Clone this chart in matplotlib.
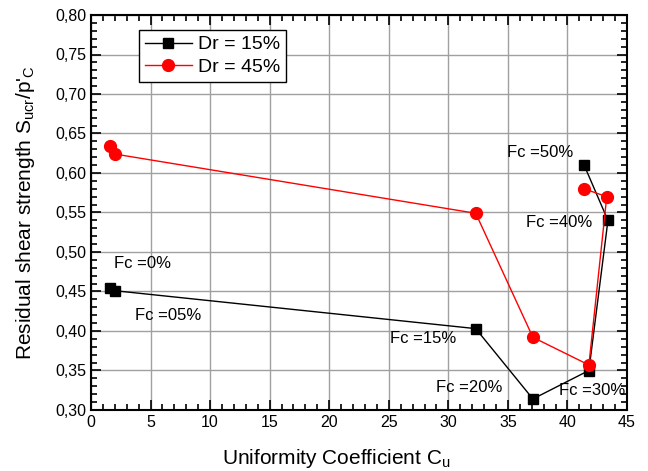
import matplotlib
matplotlib.use("Agg")
import matplotlib.pyplot as plt
from matplotlib.ticker import MultipleLocator, FuncFormatter

plt.rcParams["font.family"] = ["Liberation Sans", "DejaVu Sans"]
plt.rcParams["mathtext.fontset"] = "custom"
plt.rcParams["mathtext.rm"] = "Liberation Sans"
plt.rcParams["mathtext.it"] = "Liberation Sans"

# Residual shear strength vs uniformity coefficient, fines content Fc = 0..50 %
fc_labels = ["Fc =0%", "Fc =05%", "Fc =15%", "Fc =20%", "Fc =30%", "Fc =40%", "Fc =50%"]

cu_dr15 = [1.6, 2.0, 32.3, 37.1, 41.8, 43.4, 41.4]
s_dr15 = [0.455, 0.451, 0.403, 0.314, 0.350, 0.540, 0.610]

cu_dr45 = [1.6, 2.0, 32.3, 37.1, 41.8, 43.3, 41.4]
s_dr45 = [0.634, 0.624, 0.549, 0.392, 0.357, 0.570, 0.580]

# label anchor points (left edge, vertical centre)
label_x = [1.9, 3.7, 25.1, 29.0, 39.3, 36.5, 34.9]
label_y = [0.485, 0.420, 0.390, 0.328, 0.325, 0.537, 0.626]

fig = plt.figure(figsize=(6.48, 4.71), dpi=100)
ax = fig.add_axes([91 / 648, 1 - 410 / 471, 536 / 648, 395 / 471])

ax.plot(cu_dr15, s_dr15, "-s", color="black", lw=1.0, ms=7, label="Dr = 15%", zorder=3)
ax.plot(cu_dr45, s_dr45, "-o", color="red", mfc="red", mec="red", lw=1.0, ms=8.5,
        label="Dr = 45%", zorder=3)

for t, x, y in zip(fc_labels, label_x, label_y):
    ax.text(x, y, t, fontsize=12, ha="left", va="center", zorder=4)

ax.set_xlim(0, 45)
ax.set_ylim(0.30, 0.80)
ax.xaxis.set_major_locator(MultipleLocator(5))
ax.xaxis.set_minor_locator(MultipleLocator(1))
ax.yaxis.set_major_locator(MultipleLocator(0.05))
ax.yaxis.set_minor_locator(MultipleLocator(0.01))
ax.yaxis.set_major_formatter(FuncFormatter(lambda v, p: f"{v:.2f}".replace(".", ",")))
ax.xaxis.set_major_formatter(FuncFormatter(lambda v, p: f"{v:.0f}"))

ax.tick_params(which="both", direction="in", top=True, right=True, labelsize=11.5,
               width=1.2, color="black")
ax.tick_params(which="major", length=7)
ax.tick_params(which="minor", length=4)
for s in ax.spines.values():
    s.set_linewidth(1.5)

ax.grid(True, which="major", color="#a0a0a0", lw=1.0, zorder=0)
ax.set_axisbelow(True)

ax.set_xlabel("Uniformity Coefficient C$_{\\mathrm{u}}$", fontsize=15, labelpad=12)
ax.xaxis.label.set_x(0.457)
ax.set_ylabel("Residual shear strength S$_{\\mathrm{ucr}}$/p'$_{\\mathrm{C}}$", fontsize=15,
              labelpad=13)

leg = ax.legend(loc="upper left", bbox_to_anchor=(0.0896, 0.962), borderaxespad=0,
                fontsize=14, frameon=True, fancybox=False, edgecolor="black",
                framealpha=1, handlelength=2.4, handletextpad=0.35, borderpad=0.3,
                labelspacing=0.25)
leg.get_frame().set_linewidth(1.0)

fig.savefig("out.png", dpi=100)
